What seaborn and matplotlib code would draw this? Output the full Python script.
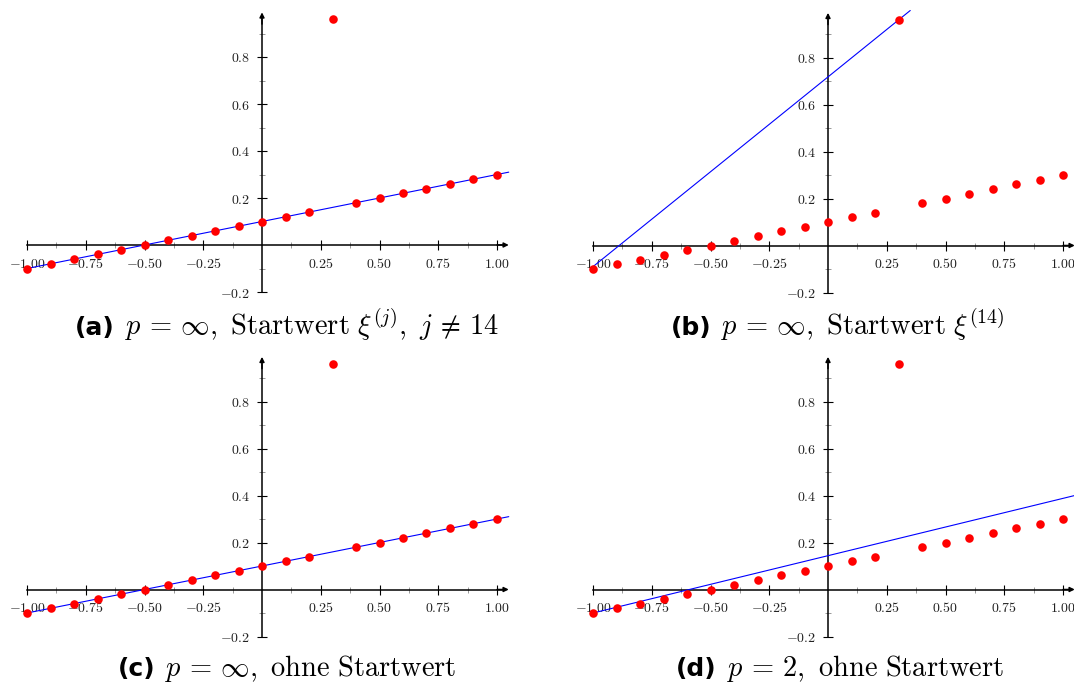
import matplotlib
matplotlib.use("Agg")
import matplotlib.pyplot as plt
import seaborn as sns

sns.set_style("white")
plt.rcParams["mathtext.fontset"] = "cm"
plt.rcParams["font.family"] = ["DejaVu Sans"]

# ---- data ----
x_vals = [-1.0, -0.9, -0.8, -0.7, -0.6, -0.5, -0.4, -0.3, -0.2, -0.1, 0.0,
          0.1, 0.2, 0.3, 0.4, 0.5, 0.6, 0.7, 0.8, 0.9, 1.0]
y_vals = [-0.10, -0.08, -0.06, -0.04, -0.02, 0.00, 0.02, 0.04, 0.06, 0.08, 0.10,
          0.12, 0.14, 0.96, 0.18, 0.20, 0.22, 0.24, 0.26, 0.28, 0.30]

line_a_x = [-1.0, 1.05]
line_a_y = [-0.10, 0.31]
line_b_x = [-1.0, 0.35]
line_b_y = [-0.09, 1.00]
line_c_x = [-1.0, 1.05]
line_c_y = [-0.10, 0.31]
line_d_x = [-1.0, 1.05]
line_d_y = [-0.10, 0.40]

x_major = [-1.0, -0.75, -0.5, -0.25, 0.25, 0.5, 0.75, 1.0]
x_labels = ["$-1.00$", "$-0.75$", "$-0.50$", "$-0.25$", "$0.25$", "$0.50$", "$0.75$", "$1.00$"]
x_minor = [-0.875, -0.625, -0.375, -0.125, 0.125, 0.375, 0.625, 0.875]
y_major = [-0.2, 0.2, 0.4, 0.6, 0.8]
y_labels = ["$-0.2$", "$0.2$", "$0.4$", "$0.6$", "$0.8$"]
y_minor = [-0.1, 0.1, 0.3, 0.5, 0.7, 0.9]

panels = [
    ("(a)", r"$p\,=\,\infty,\ \mathrm{Startwert}\ \xi^{(j)},\ j\,\neq\,14$", line_a_x, line_a_y),
    ("(b)", r"$p\,=\,\infty,\ \mathrm{Startwert}\ \xi^{(14)}$", line_b_x, line_b_y),
    ("(c)", r"$p\,=\,\infty,\ \mathrm{ohne\ Startwert}$", line_c_x, line_c_y),
    ("(d)", r"$p\,=\,2,\ \mathrm{ohne\ Startwert}$", line_d_x, line_d_y),
]

W, H = 1074, 693
fig = plt.figure(figsize=(W / 100, H / 100), dpi=100)

origins = [(262, 245), (828, 245.5), (262, 589.5), (828, 589.5)]
cap_centers = [(287, 335), (838, 335), (287, 676), (840, 676)]
S = 235.0
XL = (-1.08, 1.08)
YL = (-0.25, 1.04)

for (lab, rest, lx, ly), (ox, oy), (cx, cy) in zip(panels, origins, cap_centers):
    left = (ox + XL[0] * S) / W
    bottom = (H - (oy - YL[0] * S)) / H
    ax = fig.add_axes([left, bottom, (XL[1] - XL[0]) * S / W, (YL[1] - YL[0]) * S / H])
    ax.set_xlim(*XL)
    ax.set_ylim(*YL)
    ax.patch.set_alpha(0)

    sns.lineplot(x=lx, y=ly, ax=ax, color="blue", linewidth=0.8,
                 sort=False, estimator=None, zorder=4)
    sns.scatterplot(x=x_vals, y=y_vals, ax=ax, color="red", s=38,
                    linewidth=0, zorder=6)

    for side in ["top", "right"]:
        ax.spines[side].set_visible(False)
    ax.spines["left"].set_position(("data", 0))
    ax.spines["bottom"].set_position(("data", 0))
    ax.spines["left"].set_bounds(-0.2, 0.96)
    ax.spines["bottom"].set_bounds(-1.0, 1.02)
    for side in ["left", "bottom"]:
        ax.spines[side].set_linewidth(1.1)
        ax.spines[side].set_color("black")
        ax.spines[side].set_zorder(3)

    ax.annotate("", xy=(1.05, 0), xytext=(1.0, 0),
                arrowprops=dict(arrowstyle="-|>", color="black", lw=1.1,
                                mutation_scale=7, shrinkA=0, shrinkB=0), zorder=3)
    ax.annotate("", xy=(0, 0.99), xytext=(0, 0.94),
                arrowprops=dict(arrowstyle="-|>", color="black", lw=1.1,
                                mutation_scale=7, shrinkA=0, shrinkB=0), zorder=3)

    ax.set_xticks(x_major)
    ax.set_xticklabels(x_labels)
    ax.set_xticks(x_minor, minor=True)
    ax.set_yticks(y_major)
    ax.set_yticklabels(y_labels)
    ax.set_yticks(y_minor, minor=True)
    ax.tick_params(which="major", direction="inout", length=7, width=0.8,
                   color="black", labelsize=10, labelcolor="#222222", pad=5)
    ax.tick_params(which="minor", direction="inout", length=5, width=0.6,
                   color="#888888")
    ax.tick_params(axis="x", which="both", bottom=True, top=False)
    ax.tick_params(axis="y", which="both", left=True, right=False)
    ax.set_xlabel("")
    ax.set_ylabel("")

    t1 = fig.text(0, 0, lab, fontsize=18, fontweight="bold", family="DejaVu Sans",
                  va="baseline", ha="left", color="black")
    t2 = fig.text(0, 0, rest, fontsize=20.5, va="baseline", ha="left", color="black")
    r = fig.canvas.get_renderer()
    w1 = t1.get_window_extent(r).width
    w2 = t2.get_window_extent(r).width
    gap = 10
    x0 = cx - (w1 + gap + w2) / 2
    t1.set_position((x0 / W, 1 - cy / H))
    t2.set_position(((x0 + w1 + gap) / W, 1 - cy / H))

fig.savefig("out.png", dpi=100)
